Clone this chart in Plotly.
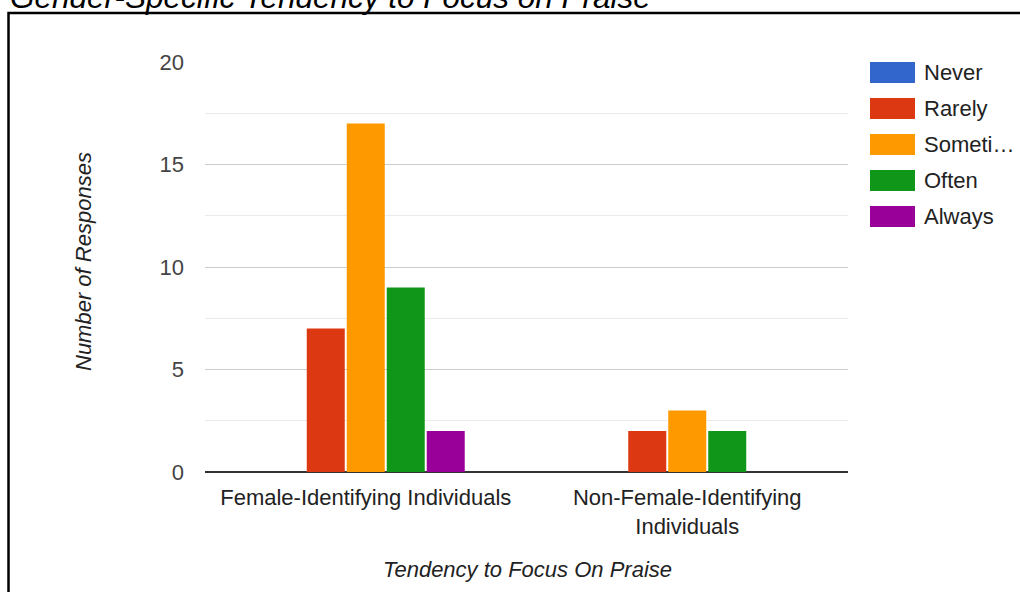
import plotly.graph_objects as go

# Survey responses by gender group
categories = ["Female-Identifying Individuals", "Non-Female-Identifying<br>Individuals"]
series_names = ["Never", "Rarely", "Sometimes", "Often", "Always"]
legend_labels = ["Never", "Rarely", "Someti…", "Often", "Always"]
never = [0, 0]
rarely = [7, 2]
sometimes = [17, 3]
often = [9, 2]
always = [2, 0]
series_values = [never, rarely, sometimes, often, always]
colors = ["#3366cc", "#dc3912", "#ff9900", "#109618", "#990099"]
y_ticks = [0, 5, 10, 15, 20]

W, H = 1020, 592
L, R, T, B = 205, 172, 62, 120
PW, PH = W - L - R, H - T - B


def px(x):
    return (x - L) / PW


def py(y):
    return (H - B - y) / PH


FONT = "Arial, 'Liberation Sans', sans-serif"

fig = go.Figure()
for name, vals, col in zip(series_names, series_values, colors):
    fig.add_trace(go.Bar(name=name, x=categories, y=vals,
                         marker=dict(color=col, line=dict(width=0))))

fig.update_layout(
    width=W, height=H,
    margin=dict(l=L, r=R, t=T, b=B, autoexpand=False),
    paper_bgcolor="white", plot_bgcolor="white",
    barmode="group", bargap=0.378, bargroupgap=0.05,
    showlegend=False,
    font=dict(family=FONT, size=22, color="#222222"),
)
fig.update_xaxes(showgrid=False, showline=False, ticks="",
                 tickfont=dict(size=22, color="#222222"),
                 ticklabelstandoff=10)
fig.update_yaxes(range=[0, 20], tickvals=y_ticks, showline=False, ticks="",
                 gridcolor="#cccccc", gridwidth=1,
                 zeroline=True, zerolinecolor="#333333", zerolinewidth=2,
                 tickfont=dict(size=22, color="#444444"),
                 ticklabelstandoff=20,
                 minor=dict(dtick=2.5, showgrid=True, gridcolor="#ebebeb", gridwidth=1))

shapes = []
# chart frame: left and top edges
shapes.append(dict(type="path", xref="paper", yref="paper",
                   path=f"M {px(8.5)},{py(600)} L {px(8.5)},{py(13)} L {px(1030)},{py(13)}",
                   line=dict(color="black", width=2.5)))

annotations = []
# legend swatches and labels
row_centers = [72.5, 108.5, 144.5, 180.5, 216.5]
for lab, col, c in zip(legend_labels, colors, row_centers):
    shapes.append(dict(type="rect", xref="paper", yref="paper",
                       x0=px(870), x1=px(915), y0=py(c + 10.5), y1=py(c - 10.5),
                       fillcolor=col, line=dict(width=0)))
    annotations.append(dict(text=lab, xref="paper", yref="paper",
                            x=px(922), y=py(c), xanchor="left", yanchor="middle",
                            showarrow=False, font=dict(size=22, color="#222222")))

# titles
annotations.append(dict(text="<i>Gender-Specific Tendency to Focus on Praise</i>",
                        xref="paper", yref="paper", x=px(8), y=py(17),
                        xanchor="left", yanchor="bottom", showarrow=False,
                        font=dict(size=31.5, color="black")))
annotations.append(dict(text="<i>Number of Responses</i>", xref="paper", yref="paper",
                        x=px(83), y=py(262), xanchor="center", yanchor="middle",
                        textangle=-90, showarrow=False,
                        font=dict(size=22, color="#222222")))
annotations.append(dict(text="<i>Tendency to Focus On Praise</i>", xref="paper", yref="paper",
                        x=px(527), y=py(569), xanchor="center", yanchor="middle",
                        showarrow=False, font=dict(size=22, color="#222222")))

fig.update_layout(shapes=shapes, annotations=annotations)
fig.write_html("out.html")
